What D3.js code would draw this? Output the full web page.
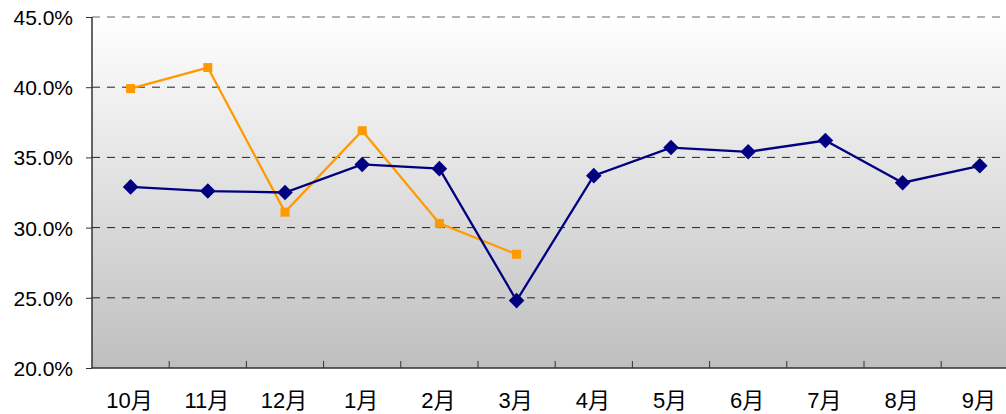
<!DOCTYPE html>
<html>
<head>
<meta charset="utf-8">
<script src="https://cdn.jsdelivr.net/npm/d3@7"></script>
<style>
  body { margin: 0; background: #fff; }
  text { font-family: "Liberation Sans", Arial, "Noto Sans CJK SC", sans-serif; fill: #000; font-weight: normal; }
</style>
</head>
<body>
<div id="chart"></div>
<script>
const months = ["10月", "11月", "12月", "1月", "2月", "3月", "4月", "5月", "6月", "7月", "8月", "9月"];
const seriesBlue = [32.9, 32.6, 32.5, 34.5, 34.2, 24.8, 33.7, 35.7, 35.4, 36.2, 33.2, 34.4];
const seriesOrange = [39.9, 41.4, 31.1, 36.9, 30.3, 28.1];
const yTicks = [20, 25, 30, 35, 40, 45];

const width = 1006, height = 414;
const plotLeft = 92, plotTop = 17, plotBottom = 368, bandW = 77.2;

const svg = d3.select("#chart").append("svg")
  .attr("width", width).attr("height", height);

// background gradient of the plot area
const grad = svg.append("defs").append("linearGradient")
  .attr("id", "bg").attr("x1", 0).attr("y1", 0).attr("x2", 0).attr("y2", 1);
grad.append("stop").attr("offset", "0%").attr("stop-color", "#ffffff");
grad.append("stop").attr("offset", "100%").attr("stop-color", "#bfbfbf");

const x = d3.scaleBand().domain(months).range([plotLeft, plotLeft + bandW * months.length]);
const y = d3.scaleLinear().domain([20, 45]).range([plotBottom, plotTop]);

svg.append("rect")
  .attr("x", plotLeft).attr("y", plotTop)
  .attr("width", width - plotLeft).attr("height", plotBottom - plotTop)
  .attr("fill", "url(#bg)");

// dashed gridlines
svg.append("g").selectAll("line").data(yTicks.filter(d => d > 20)).enter().append("line")
  .attr("x1", plotLeft).attr("x2", width)
  .attr("y1", d => y(d)).attr("y2", d => y(d))
  .attr("stroke", d => d === 45 ? "#666" : "#222")
  .attr("stroke-width", 1)
  .attr("stroke-dasharray", "8,7");

// y axis
const yAxis = svg.append("g").attr("transform", `translate(${plotLeft},0)`)
  .call(d3.axisLeft(y).tickValues(yTicks).tickSize(0).tickPadding(19)
    .tickFormat(d => d.toFixed(1) + "%"));
yAxis.select(".domain").remove();
yAxis.attr("font-family", null).attr("font-size", null);
yAxis.selectAll("text").style("font-size", "21px").attr("dy", "0.36em");
svg.append("line").attr("x1", plotLeft).attr("x2", plotLeft)
  .attr("y1", plotTop).attr("y2", plotBottom)
  .attr("stroke", "#333").attr("stroke-width", 1.5);
yAxis.selectAll(".tick").append("line")
  .attr("x1", -6).attr("x2", 0).attr("stroke", "#333");

// x axis
const xTickPos = months.map((m, i) => plotLeft + bandW * (i + 1));
svg.append("line").attr("x1", plotLeft).attr("x2", width)
  .attr("y1", plotBottom).attr("y2", plotBottom)
  .attr("stroke", "#333").attr("stroke-width", 1.5);
svg.append("g").selectAll("line").data(xTickPos).enter().append("line")
  .attr("x1", d => d).attr("x2", d => d)
  .attr("y1", plotBottom).attr("y2", plotBottom - 7)
  .attr("stroke", "#333");
svg.append("g").selectAll("text").data(months).enter().append("text")
  .attr("x", d => x(d) + x.bandwidth() / 2 - 1)
  .attr("y", 408)
  .attr("text-anchor", "middle")
  .style("font-size", "22px")
  .text(d => d);

const line = d3.line()
  .x((d, i) => x(months[i]) + x.bandwidth() / 2)
  .y(d => y(d));

// orange series
svg.append("path").datum(seriesOrange)
  .attr("d", line).attr("fill", "none")
  .attr("stroke", "#ff9900").attr("stroke-width", 2.3);
svg.append("g").selectAll("rect").data(seriesOrange).enter().append("rect")
  .attr("x", (d, i) => x(months[i]) + x.bandwidth() / 2 - 4.5)
  .attr("y", d => y(d) - 4.5)
  .attr("width", 9).attr("height", 9)
  .attr("fill", "#ff9900");

// navy series
svg.append("path").datum(seriesBlue)
  .attr("d", line).attr("fill", "none")
  .attr("stroke", "#000080").attr("stroke-width", 2.3);
svg.append("g").selectAll("rect").data(seriesBlue).enter().append("rect")
  .attr("x", -5.5).attr("y", -5.5).attr("width", 11).attr("height", 11)
  .attr("transform", (d, i) => `translate(${x(months[i]) + x.bandwidth() / 2},${y(d)}) rotate(45)`)
  .attr("fill", "#000080");
</script>
</body>
</html>
